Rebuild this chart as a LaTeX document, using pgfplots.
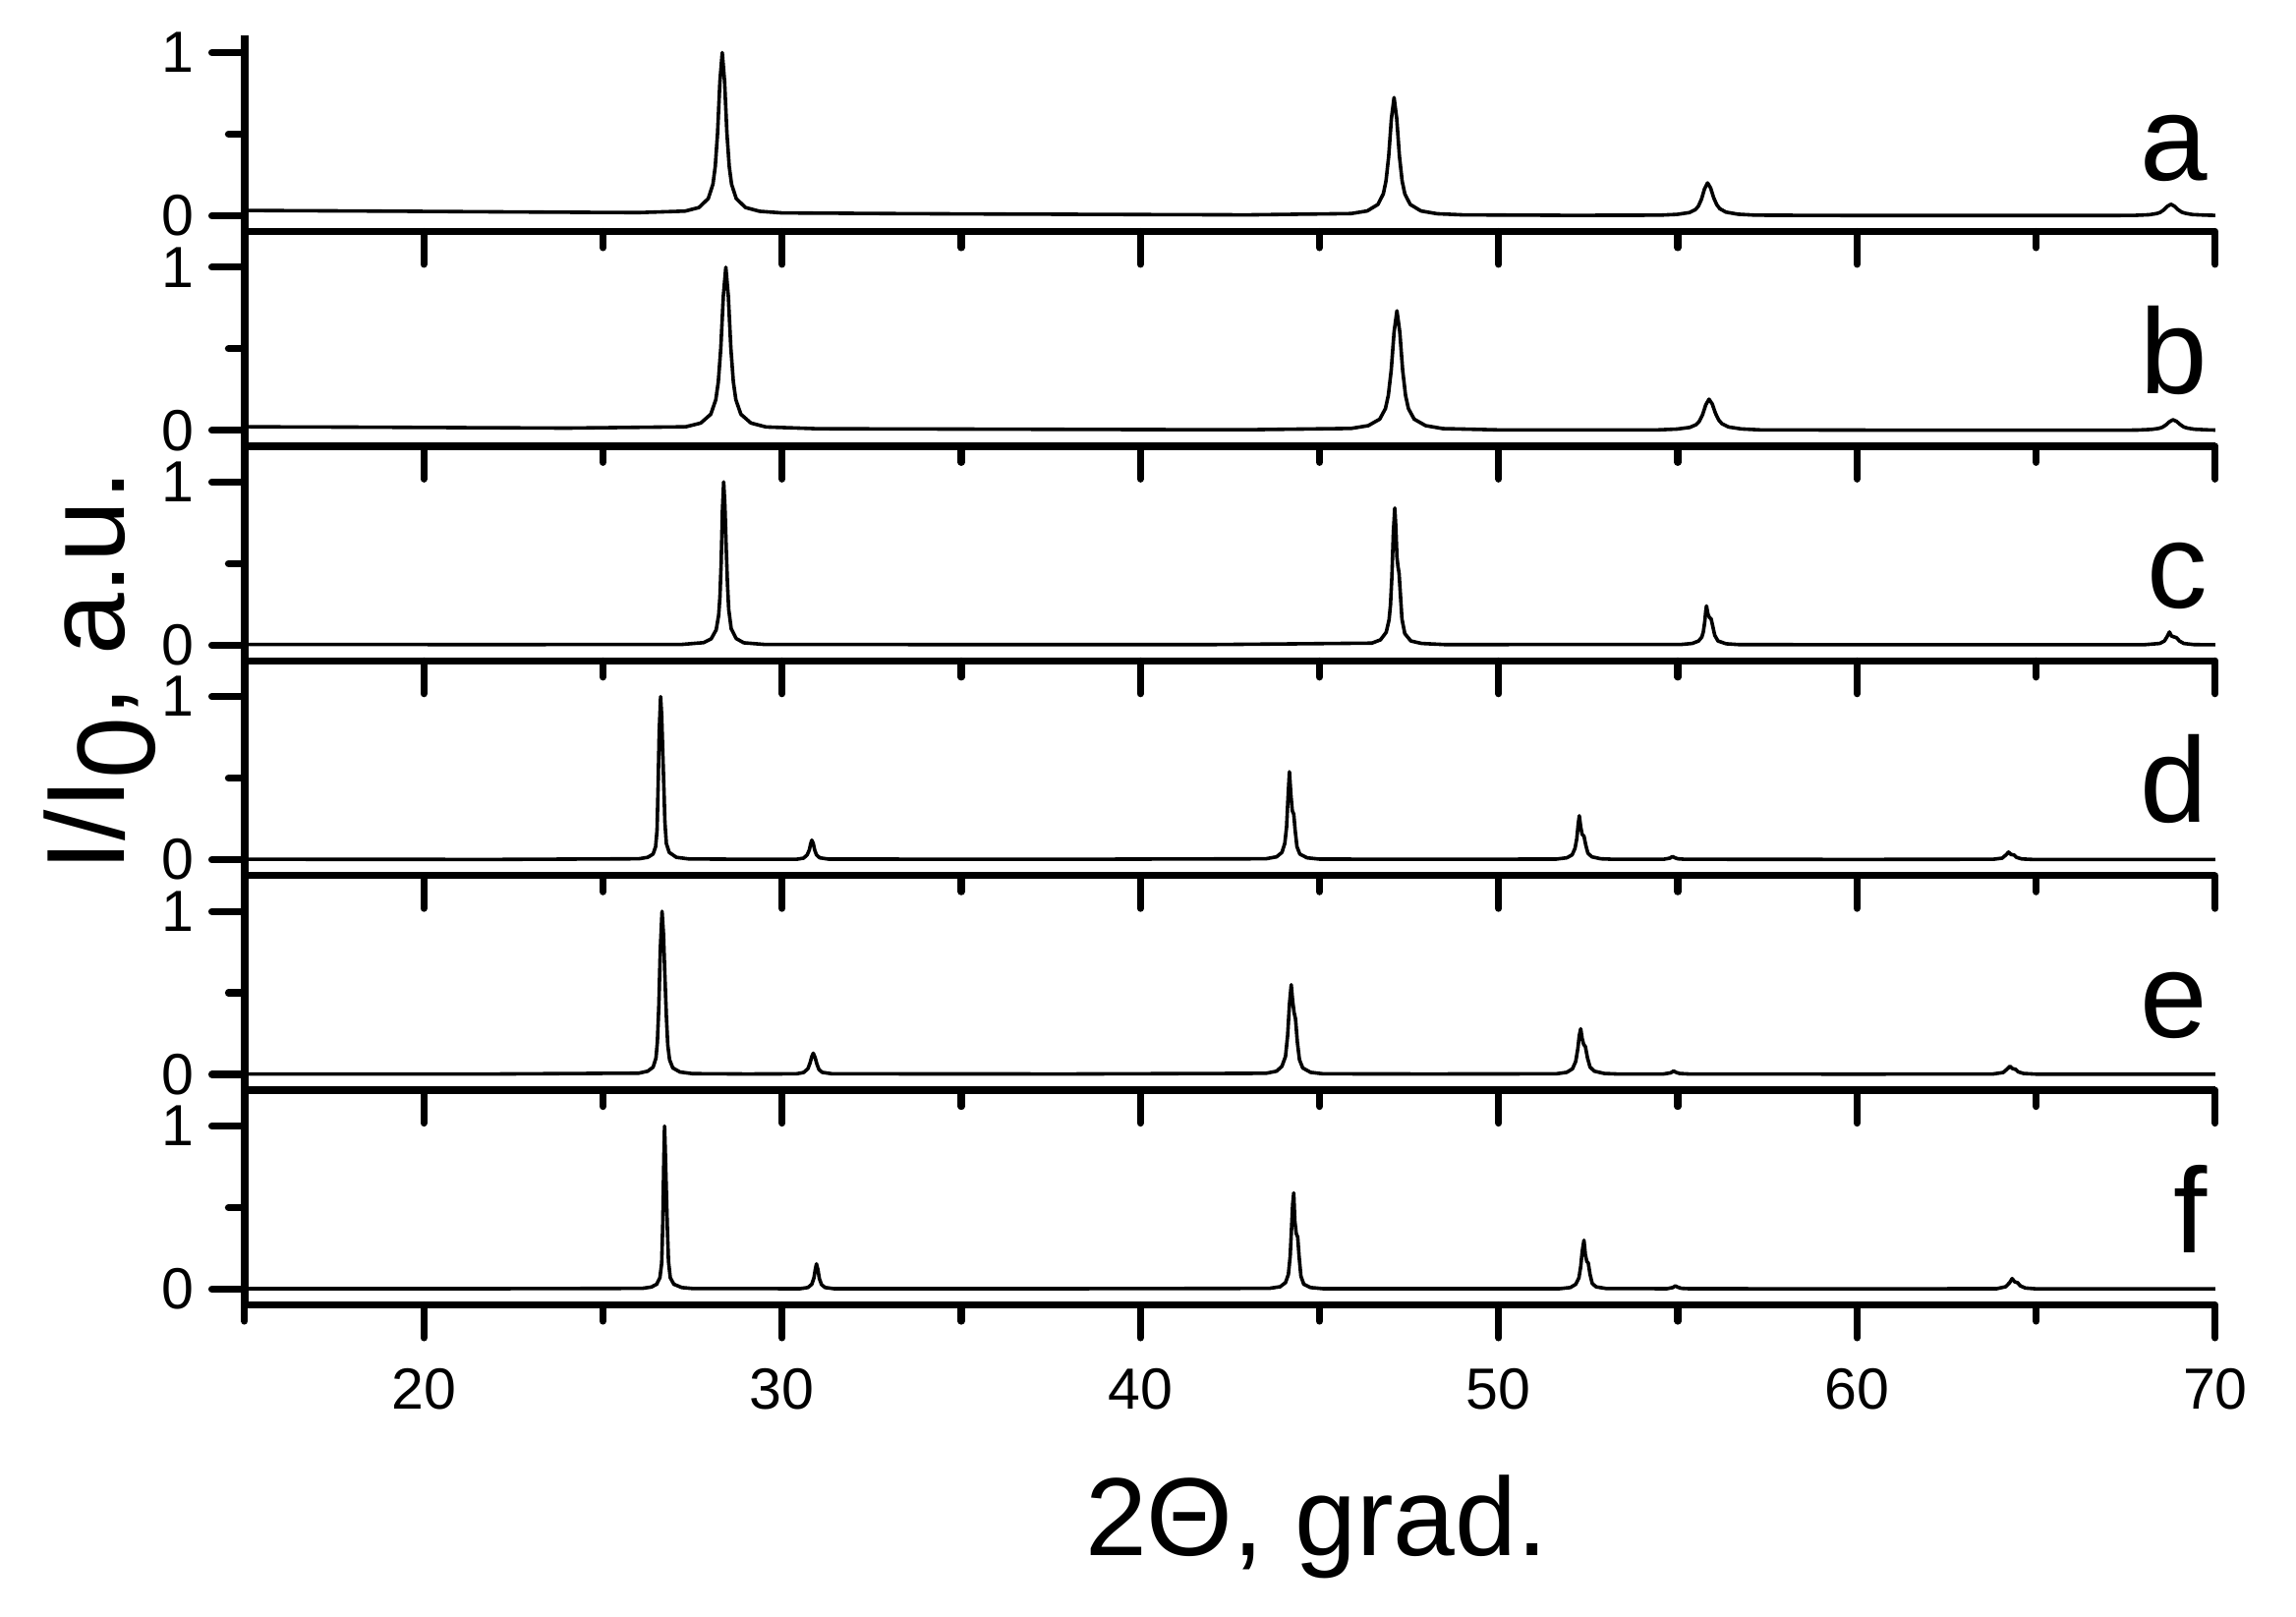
\documentclass[border=0pt]{standalone}
\usepackage{fontspec}
\setmainfont{Liberation Sans}
\usepackage{pgfplots}
\pgfplotsset{compat=1.18}

\pgfplotsset{
  xrdpanel/.style={
    scale only axis, width=390.7pt, height=42.56pt, anchor=south west,
    xmin=15, xmax=70, ymin=-0.097, ymax=1.219,
    axis x line*=bottom, axis y line*=left,
    xtick pos=bottom, ytick pos=left, tick align=outside,
    xtick={20,30,...,70}, minor xtick={15,25,...,65},
    ytick={0,1}, minor ytick={0.5},
    major tick length=6.5pt, minor tick length=3.2pt,
    axis line style={line width=1.45pt},
    every tick/.style={black, line width=1.4pt, line cap=round},
    ticklabel style={font=\fontsize{11.5}{13}\selectfont},
    xticklabel style={yshift=-2.5pt},
    /pgf/number format/assume math mode=true,
  },
  xrdline/.style={black, line width=0.7pt, line join=round, no markers},
}

\begin{document}
\begin{tikzpicture}
\useasboundingbox (-48.5pt,-61.8pt) rectangle (406.7pt,258.7pt);

% a
\begin{axis}[xrdpanel, at={(0pt,212.8pt)}, height=38.9pt, ymax=1.106, xticklabels={}]
\addplot[xrdline] coordinates {
(15,0.032) (18,0.029) (21,0.025) (24,0.021) (26,0.019) (27.29,0.028) (27.68,0.050) (27.94,0.105) (28.07,0.193) (28.135,0.302) (28.20,0.508) (28.265,0.824) (28.33,1.0) (28.395,0.824) (28.46,0.508) (28.525,0.302) (28.59,0.193) (28.72,0.105) (28.98,0.050) (29.37,0.027) (30,0.017) (33,0.013) (36,0.010) (40,0.007) (43,0.005) (45.88,0.013) (46.33,0.029) (46.63,0.069) (46.78,0.134) (46.855,0.213) (46.93,0.364) (47.005,0.594) (47.08,0.724) (47.155,0.594) (47.23,0.364) (47.305,0.213) (47.38,0.134) (47.53,0.069) (47.83,0.029) (48.28,0.012) (49,0.005) (52,0.002) (54.47,0.003) (54.98,0.008) (55.32,0.019) (55.49,0.037) (55.575,0.059) (55.66,0.101) (55.745,0.165) (55.83,0.201) (55.915,0.170) (56.00,0.110) (56.085,0.068) (56.17,0.043) (56.34,0.022) (56.68,0.009) (57.19,0.003) (60,0.001) (64,0.001) (67.16,0.001) (67.76,0.002) (68.16,0.006) (68.36,0.013) (68.46,0.020) (68.56,0.035) (68.66,0.057) (68.76,0.07) (68.86,0.058) (68.96,0.037) (69.06,0.022) (69.16,0.015) (69.36,0.007) (69.76,0.003) (70,0.002)
};
\end{axis}

% b
\begin{axis}[xrdpanel, at={(0pt,170.24pt)}, xticklabels={}]
\addplot[xrdline] coordinates {
(15,0.022) (18,0.020) (21,0.017) (24,0.014) (27.31,0.022) (27.73,0.045) (28.01,0.099) (28.15,0.188) (28.22,0.297) (28.29,0.505) (28.36,0.822) (28.43,1.0) (28.50,0.822) (28.57,0.505) (28.64,0.297) (28.71,0.188) (28.85,0.099) (29.13,0.045) (29.55,0.021) (31,0.010) (35,0.008) (40,0.005) (43,0.004) (45.88,0.012) (46.36,0.029) (46.68,0.069) (46.84,0.134) (46.92,0.215) (47.00,0.368) (47.08,0.602) (47.16,0.733) (47.24,0.602) (47.32,0.368) (47.40,0.215) (47.48,0.134) (47.64,0.069) (47.96,0.029) (48.44,0.011) (50,0.003) (54.43,0.003) (54.97,0.008) (55.33,0.018) (55.51,0.035) (55.60,0.056) (55.69,0.096) (55.78,0.157) (55.87,0.191) (55.96,0.162) (56.05,0.105) (56.14,0.064) (56.23,0.041) (56.41,0.021) (56.77,0.009) (57.31,0.003) (62,0.001) (67.22,0.001) (67.82,0.002) (68.22,0.006) (68.42,0.012) (68.52,0.019) (68.62,0.033) (68.72,0.053) (68.82,0.065) (68.92,0.055) (69.02,0.036) (69.12,0.021) (69.22,0.014) (69.42,0.007) (69.82,0.003) (70,0.002)
};
\end{axis}

% c
\begin{axis}[xrdpanel, at={(0pt,127.68pt)}, xticklabels={}]
\addplot[xrdline] coordinates {
(15,0.004) (22,0.003) (27.2,0.004) (27.81,0.015) (28.02,0.038) (28.16,0.093) (28.23,0.183) (28.265,0.293) (28.30,0.503) (28.335,0.823) (28.37,1.0) (28.405,0.85) (28.44,0.60) (28.475,0.38) (28.51,0.22) (28.58,0.10) (28.72,0.04) (28.93,0.014) (29.5,0.004) (35,0.003) (42,0.003) (46.46,0.012) (46.70,0.032) (46.86,0.078) (46.94,0.154) (46.98,0.246) (47.02,0.423) (47.06,0.69) (47.10,0.84) (47.13,0.72) (47.16,0.54) (47.19,0.48) (47.22,0.44) (47.26,0.30) (47.30,0.16) (47.38,0.07) (47.55,0.025) (47.85,0.01) (48.5,0.003) (55.1,0.004) (55.40,0.01) (55.58,0.025) (55.67,0.05) (55.71,0.08) (55.75,0.14) (55.78,0.21) (55.80,0.24) (55.84,0.19) (55.88,0.17) (55.93,0.16) (55.97,0.12) (56.03,0.06) (56.12,0.025) (56.35,0.008) (56.7,0.003) (62,0.002) (68.0,0.002) (68.45,0.01) (68.58,0.025) (68.65,0.05) (68.72,0.08) (68.78,0.055) (68.85,0.05) (68.92,0.045) (69.0,0.025) (69.12,0.01) (69.4,0.003) (70,0.002)
};
\end{axis}

% d
\begin{axis}[xrdpanel, at={(0pt,85.12pt)}, xticklabels={}]
\addplot[xrdline] coordinates {
(15,0.003) (22,0.002) (26.00,0.006) (26.25,0.015) (26.40,0.035) (26.47,0.08) (26.51,0.18) (26.54,0.45) (26.57,0.78) (26.61,1.0) (26.64,0.88) (26.67,0.66) (26.70,0.45) (26.73,0.23) (26.77,0.10) (26.85,0.045) (27.05,0.015) (27.4,0.005) (29,0.003) (30.4,0.003) (30.60,0.01) (30.70,0.03) (30.76,0.06) (30.80,0.1) (30.83,0.12) (30.87,0.1) (30.91,0.06) (30.96,0.03) (31.05,0.012) (31.3,0.004) (38,0.003) (43.5,0.006) (43.8,0.018) (43.95,0.045) (44.03,0.1) (44.08,0.2) (44.12,0.38) (44.16,0.54) (44.20,0.40) (44.24,0.30) (44.28,0.28) (44.32,0.18) (44.37,0.08) (44.45,0.035) (44.65,0.012) (45.0,0.004) (48,0.003) (51.6,0.004) (51.9,0.012) (52.05,0.03) (52.13,0.07) (52.18,0.13) (52.22,0.22) (52.25,0.27) (52.29,0.2) (52.33,0.155) (52.38,0.145) (52.43,0.09) (52.49,0.04) (52.6,0.018) (52.85,0.006) (53.2,0.003) (54.6,0.003) (54.78,0.01) (54.85,0.02) (54.92,0.012) (55.0,0.006) (55.2,0.003) (60,0.002) (63.8,0.003) (64.05,0.01) (64.16,0.03) (64.23,0.047) (64.30,0.032) (64.38,0.03) (64.45,0.015) (64.6,0.005) (64.9,0.002) (70,0.002)
};
\end{axis}

% e
\begin{axis}[xrdpanel, at={(0pt,42.56pt)}, xticklabels={}]
\addplot[xrdline] coordinates {
(15,0.003) (22,0.003) (26.0,0.008) (26.25,0.02) (26.40,0.045) (26.48,0.1) (26.52,0.2) (26.56,0.42) (26.60,0.76) (26.65,1.0) (26.69,0.86) (26.73,0.6) (26.77,0.36) (26.81,0.18) (26.86,0.09) (26.95,0.04) (27.15,0.015) (27.5,0.005) (29,0.003) (30.4,0.004) (30.6,0.012) (30.72,0.035) (30.78,0.07) (30.83,0.11) (30.87,0.13) (30.92,0.105) (30.97,0.065) (31.03,0.03) (31.12,0.013) (31.4,0.004) (38,0.003) (43.5,0.007) (43.8,0.02) (43.95,0.05) (44.05,0.11) (44.11,0.24) (44.16,0.43) (44.21,0.55) (44.25,0.45) (44.29,0.38) (44.33,0.34) (44.38,0.2) (44.44,0.09) (44.53,0.04) (44.75,0.013) (45.1,0.004) (48,0.003) (51.6,0.004) (51.9,0.013) (52.06,0.035) (52.15,0.08) (52.21,0.16) (52.25,0.24) (52.29,0.28) (52.33,0.22) (52.37,0.185) (52.42,0.17) (52.48,0.1) (52.55,0.045) (52.67,0.02) (52.95,0.006) (53.3,0.003) (54.6,0.003) (54.8,0.01) (54.88,0.021) (54.95,0.013) (55.05,0.006) (55.3,0.003) (60,0.002) (63.8,0.003) (64.08,0.012) (64.19,0.033) (64.27,0.05) (64.34,0.036) (64.42,0.032) (64.5,0.016) (64.65,0.006) (65.0,0.002) (70,0.002)
};
\end{axis}

% f
\begin{axis}[xrdpanel, at={(0pt,0pt)}]
\addplot[xrdline] coordinates {
(15,0.003) (22,0.003) (26.1,0.005) (26.35,0.013) (26.50,0.03) (26.59,0.07) (26.64,0.16) (26.67,0.4) (26.70,0.8) (26.72,1.0) (26.74,0.85) (26.77,0.6) (26.80,0.36) (26.83,0.17) (26.88,0.07) (26.98,0.03) (27.2,0.01) (27.5,0.004) (30.5,0.003) (30.72,0.01) (30.83,0.03) (30.89,0.07) (30.93,0.125) (30.96,0.155) (31.00,0.12) (31.04,0.065) (31.1,0.028) (31.2,0.01) (31.45,0.003) (38,0.003) (43.6,0.005) (43.9,0.015) (44.05,0.04) (44.13,0.09) (44.18,0.2) (44.22,0.38) (44.25,0.52) (44.28,0.59) (44.31,0.42) (44.35,0.34) (44.39,0.32) (44.43,0.2) (44.48,0.08) (44.56,0.03) (44.75,0.01) (45.1,0.003) (48,0.003) (51.7,0.003) (52.0,0.01) (52.15,0.03) (52.24,0.07) (52.29,0.14) (52.33,0.23) (52.38,0.30) (52.42,0.21) (52.46,0.17) (52.50,0.16) (52.55,0.09) (52.61,0.035) (52.72,0.014) (53.0,0.004) (54.7,0.003) (54.86,0.01) (54.93,0.02) (55.0,0.012) (55.1,0.005) (55.3,0.003) (60,0.002) (63.9,0.003) (64.15,0.015) (64.26,0.04) (64.33,0.065) (64.40,0.045) (64.48,0.04) (64.56,0.02) (64.7,0.007) (65.0,0.002) (70,0.002)
};
\end{axis}

% panel letters
\foreach \lab/\yy in {a/223.0, b/180.7, c/138.1, d/95.6, e/53.0, f/10.4}
  \node[anchor=base east, inner sep=0pt, font=\fontsize{24}{28}\selectfont] at (389.3pt,\yy pt) {\lab};

% axis titles
\node[rotate=90, anchor=base, inner sep=0pt, font=\fontsize{22}{26}\selectfont]
  at (-23.8pt,125.7pt) {I/I\raisebox{-6pt}{0}, a.u.};
\node[anchor=base, inner sep=0pt, font=\fontsize{22}{26}\selectfont]
  at (212.5pt,-49.6pt) {2Θ, grad.};
\end{tikzpicture}
\end{document}
